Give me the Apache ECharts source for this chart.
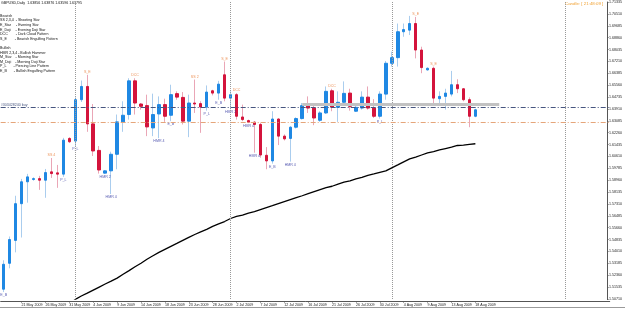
<!DOCTYPE html>
<html>
<head>
<meta charset="utf-8">
<script src="https://cdn.jsdelivr.net/npm/echarts@6/dist/echarts.min.js"></script>
<style>
  html, body { margin: 0; padding: 0; background: #fff; }
  #chart { width: 625px; height: 309px; }
</style>
</head>
<body>
<div id="chart"></div>
<script>
// GBPUSD daily bars, 18 May 2009 .. 18 Aug 2009 (Sun..Fri bars)
var dates = [
  '18 May 2009','19 May 2009','20 May 2009','21 May 2009','22 May 2009',
  '24 May 2009','25 May 2009','26 May 2009','27 May 2009','28 May 2009','29 May 2009',
  '31 May 2009','1 Jun 2009','2 Jun 2009','3 Jun 2009','4 Jun 2009','5 Jun 2009',
  '7 Jun 2009','8 Jun 2009','9 Jun 2009','10 Jun 2009','11 Jun 2009','12 Jun 2009',
  '14 Jun 2009','15 Jun 2009','16 Jun 2009','17 Jun 2009','18 Jun 2009','19 Jun 2009',
  '21 Jun 2009','22 Jun 2009','23 Jun 2009','24 Jun 2009','25 Jun 2009','26 Jun 2009',
  '28 Jun 2009','29 Jun 2009','30 Jun 2009','1 Jul 2009','2 Jul 2009','3 Jul 2009',
  '5 Jul 2009','6 Jul 2009','7 Jul 2009','8 Jul 2009','9 Jul 2009','10 Jul 2009',
  '12 Jul 2009','13 Jul 2009','14 Jul 2009','15 Jul 2009','16 Jul 2009','17 Jul 2009',
  '19 Jul 2009','20 Jul 2009','21 Jul 2009','22 Jul 2009','23 Jul 2009','24 Jul 2009',
  '26 Jul 2009','27 Jul 2009','28 Jul 2009','29 Jul 2009','30 Jul 2009','31 Jul 2009',
  '2 Aug 2009','3 Aug 2009','4 Aug 2009','5 Aug 2009','6 Aug 2009','7 Aug 2009',
  '9 Aug 2009','10 Aug 2009','11 Aug 2009','12 Aug 2009','13 Aug 2009','14 Aug 2009',
  '16 Aug 2009','17 Aug 2009','18 Aug 2009'
];
var emptySlots = 22; // chart shift on the right

var open = [
  1.5139,1.5319,1.5478,1.5733,1.5885,1.5901,1.5907,1.5896,1.5954,1.5947,
  1.5938,1.6186,1.6168,1.6455,1.6547,1.6287,1.6103,1.5945,1.5961,1.6076,
  1.6301,1.6352,1.6586,1.6425,1.6414,1.6259,1.6356,1.6421,1.6347,1.6497,
  1.6471,1.6306,1.6432,1.6428,1.6404,1.6517,1.6501,1.6628,1.6466,1.6490,
  1.6335,1.6310,1.6299,1.6283,1.6069,1.6030,1.6321,1.6202,1.6186,1.6264,
  1.6324,1.6416,1.6397,1.6312,1.6363,1.6517,1.6402,1.6437,1.6501,1.6375,
  1.6397,1.6473,1.6397,1.6340,1.6494,1.6708,1.6747,1.6927,1.6938,1.6984,
  1.6800,1.6662,1.6673,1.6462,1.6478,1.6494,1.6559,1.6531,1.6455,1.6340
];
var close = [
  1.5312,1.5484,1.5733,1.5885,1.5919,1.5907,1.5896,1.5949,1.5942,1.5938,
  1.6174,1.6163,1.6455,1.6547,1.6287,1.6099,1.5967,1.5961,1.6076,1.6301,
  1.6347,1.6586,1.6432,1.6409,1.6266,1.6352,1.6421,1.6340,1.6490,1.6473,
  1.6306,1.6432,1.6425,1.6404,1.6508,1.6501,1.6563,1.6466,1.6490,1.6340,
  1.6317,1.6299,1.6283,1.6071,1.6030,1.6321,1.6202,1.6183,1.6264,1.6324,
  1.6414,1.6397,1.6328,1.6363,1.6513,1.6404,1.6437,1.6499,1.6409,1.6402,
  1.6473,1.6397,1.6340,1.6494,1.6708,1.6747,1.6927,1.6942,1.6984,1.6800,
  1.6678,1.6673,1.6466,1.6478,1.6501,1.6559,1.6531,1.6455,1.6340,1.6385
];
var low = [
  1.5119,1.5284,1.5395,1.5498,1.5740,1.5892,1.5829,1.5774,1.5912,1.5843,
  1.5919,1.6154,1.6133,1.6439,1.6232,1.6064,1.5942,1.5940,1.5800,1.5972,
  1.6232,1.6317,1.6352,1.6386,1.6202,1.6202,1.6188,1.6301,1.6306,1.6455,
  1.6283,1.6195,1.6363,1.6225,1.6379,1.6485,1.6455,1.6444,1.6388,1.6317,
  1.6306,1.6292,1.6087,1.6052,1.5972,1.6011,1.6140,1.6172,1.6025,1.6255,
  1.6317,1.6363,1.6278,1.6301,1.6356,1.6375,1.6301,1.6421,1.6379,1.6370,
  1.6386,1.6386,1.6328,1.6324,1.6455,1.6685,1.6685,1.6892,1.6904,1.6742,
  1.6639,1.6657,1.6421,1.6421,1.6386,1.6478,1.6501,1.6444,1.6264,1.6333
];
var high = [
  1.5340,1.5505,1.5788,1.5905,1.5940,1.5916,1.5926,1.5974,1.6050,1.6002,
  1.6190,1.6195,1.6471,1.6588,1.6628,1.6425,1.6133,1.5967,1.6094,1.6352,
  1.6444,1.6604,1.6604,1.6432,1.6490,1.6497,1.6478,1.6462,1.6559,1.6513,
  1.6508,1.6490,1.6595,1.6444,1.6554,1.6524,1.6586,1.6720,1.6513,1.6501,
  1.6421,1.6317,1.6306,1.6294,1.6126,1.6375,1.6326,1.6214,1.6271,1.6333,
  1.6432,1.6478,1.6421,1.6375,1.6547,1.6531,1.6513,1.6582,1.6531,1.6421,
  1.6513,1.6547,1.6459,1.6513,1.6724,1.6789,1.6984,1.6984,1.7037,1.7030,
  1.6823,1.6680,1.6685,1.6513,1.6531,1.6655,1.6597,1.6535,1.6471,1.6392
];
// moving average (starts below the visible range)
var ma = [
  '-','-','-','-','-','-','-','-','-','-','-',
  1.5037,1.5068,1.5092,1.5112,1.5133,1.5154,1.5175,1.5195,1.5216,1.5243,
  1.5268,1.5295,1.5319,1.5347,1.5371,1.5395,1.5416,1.5437,1.5457,1.5478,
  1.5499,1.5519,1.5537,1.5554,1.5575,1.5592,1.5609,1.5630,1.5644,1.5654,
  1.5668,1.5678,1.5692,1.5706,1.5719,1.5733,1.5747,1.5761,1.5775,1.5788,
  1.5802,1.5816,1.5830,1.5844,1.5854,1.5868,1.5882,1.5892,1.5906,1.5916,
  1.5930,1.5940,1.5951,1.5961,1.5982,1.6002,1.6023,1.6044,1.6057,1.6071,
  1.6085,1.6095,1.6106,1.6116,1.6126,1.6137,1.6140,1.6145,1.6149
];

// candle pattern marks
var bearIdx  = [8, 14, 22, 32, 37, 39, 55, 69, 72];
var bearText = ['SS 4','S_E','DCC','SS 2','S_E','DCC','DCC','S_E','S_E'];
var bullIdx  = [0, 10, 12, 17, 18, 26, 28, 34, 36, 38, 41, 42, 45, 48, 63];
var bullText = ['E_B','P_L','P_L','HMR 2','HMR 4','HMR 4','E_B','P_L','E_B','HMR 2','HMR 4','HMR 4','E_B','HMR 4','P_L'];

// price axis
var yMin = 1.50710, yStep = 0.00825, yMax = 1.71335;
var bid = 1.63870;
var buyPrice = 1.6371, stopPrice = 1.6313;
var supportPrice = 1.6420, supportFrom = 50, supportTo = 83;
var separators = [12, 38, 65, 94];

var header = 'GBPUSD,Daily  1.63856 1.63876 1.63596 1.63795';
var legendLines = [
  'Bearish',
  'SS 2,3,4  - Shooting Star',
  'E_Star     - Evening Star',
  'E_Doji     - Evening Doji Star',
  'DCC        - Dark Cloud Pattern',
  'S_E        - Bearish Engulfing Pattern',
  '',
  'Bullish',
  'HMR 2,3,4 - Bullish Hammer',
  'M_Star    - Morning Star',
  'M_Doji    - Morning Doji Star',
  'P_L       - Piercing Line Pattern',
  'E_B       - Bullish Engulfing Pattern'
];

var FONT = 'Liberation Sans';
var categories = dates.slice();
for (var i = 0; i < emptySlots; i++) categories.push('');

var full = [], bodies = [];
for (var k = 0; k < dates.length; k++) {
  full.push([open[k], close[k], low[k], high[k]]);
  bodies.push([open[k], close[k], Math.min(open[k], close[k]), Math.max(open[k], close[k])]);
}
var bearData = bearIdx.map(function (k, j) { return { name: bearText[j], value: [k, high[k]] }; });
var bullData = bullIdx.map(function (k, j) { return { name: bullText[j], value: [k, low[k]] }; });

var showLabel = function (index) { return index % 4 === 3 && index < dates.length; };

var chart = echarts.init(document.getElementById('chart'), null, { renderer: 'canvas' });
chart.setOption({
  animation: false,
  backgroundColor: '#ffffff',
  textStyle: { fontFamily: FONT },
  grid: { left: 0.7, right: 12.3, top: 0, bottom: 10 },
  xAxis: {
    type: 'category',
    data: categories,
    offset: 2,
    axisLine: { lineStyle: { color: '#555', width: 1 } },
    axisTick: { show: true, interval: showLabel, alignWithLabel: true, length: 1.5, lineStyle: { color: '#555' } },
    axisLabel: { interval: showLabel, align: 'left', margin: 1.5, fontSize: 3.6, color: '#222', fontFamily: FONT },
    splitLine: { show: false }
  },
  yAxis: {
    type: 'value',
    position: 'right',
    offset: -2.7,
    min: yMin, max: yMax, interval: yStep,
    axisLine: { show: true, lineStyle: { color: '#555', width: 1 } },
    axisTick: { show: true, length: 1.5, lineStyle: { color: '#555' } },
    axisLabel: { margin: 2, fontSize: 3.6, color: '#222', fontFamily: FONT,
      formatter: function (v) { return v.toFixed(5); } },
    splitLine: { show: false }
  },
  series: [
    {
      name: 'wicks', type: 'candlestick', data: full, barWidth: 1,
      itemStyle: { color: '#aacdee', color0: '#eaa6b6', borderColor: '#aacdee', borderColor0: '#eaa6b6', borderWidth: 1 }
    },
    {
      name: 'bodies', type: 'candlestick', data: bodies, barWidth: 3,
      itemStyle: { color: '#1f88e3', color0: '#d4143c', borderColor: '#1f88e3', borderColor0: '#d4143c', borderWidth: 1 }
    },
    {
      name: 'MA', type: 'line', data: ma, symbol: 'none', z: 1,
      lineStyle: { color: '#000', width: 1.3 },
      markLine: {
        silent: true, symbol: 'none', animation: false,
        data: separators.map(function (s) {
          return { xAxis: s, lineStyle: { color: '#999', type: 'dotted', width: 1 }, label: { show: false } };
        }).concat([
          { yAxis: buyPrice, lineStyle: { color: '#46557f', type: [5, 2, 1, 2], width: 1 },
            label: { show: true, position: 'insideStartTop', distance: [0, 0.5], formatter: '#303428240 buy',
              fontSize: 3.6, color: '#46557f', fontFamily: FONT } },
          { yAxis: stopPrice, lineStyle: { color: '#e5a57a', type: [5, 2, 1, 2], width: 1 }, label: { show: false } },
          { yAxis: bid, lineStyle: { opacity: 0 },
            label: { show: true, position: 'end', distance: 0.5, formatter: bid.toFixed(5),
              fontSize: 3.6, color: '#fff', backgroundColor: '#000', padding: [0.6, 1.2], fontFamily: FONT } },
          [
            { coord: [supportFrom, supportPrice], lineStyle: { color: '#c2c2c2', width: 3, type: 'solid' }, label: { show: false } },
            { coord: [supportTo, supportPrice] }
          ]
        ])
      }
    },
    {
      name: 'bearish', type: 'scatter', data: bearData, symbolSize: 0,
      label: { show: true, position: 'top', distance: 1, formatter: '{b}', fontSize: 3.6, color: '#e8772e', fontFamily: FONT }
    },
    {
      name: 'bullish', type: 'scatter', data: bullData, symbolSize: 0,
      label: { show: true, position: 'bottom', distance: 1, formatter: '{b}', fontSize: 3.6, color: '#2b2f9e', fontFamily: FONT }
    }
  ],
  graphic: [
    { type: 'text', left: 1, top: 1, style: { text: header, fontSize: 3.6, fill: '#111', fontFamily: FONT } },
    { type: 'text', left: 0, top: 13.5, style: { text: legendLines.join('\n'), fontSize: 3.6, lineHeight: 4.6, fill: '#111', fontFamily: FONT } },
    { type: 'text', left: 565, top: 1.5, style: { text: 'Candle: [ 21:48:09 ]', fontSize: 4.4, fill: '#f0a030', fontFamily: FONT } },
    { type: 'rect', shape: { x: 0, y: 307, width: 625, height: 1 }, style: { fill: '#9a9a9a' } }
  ]
});
</script>
</body>
</html>
